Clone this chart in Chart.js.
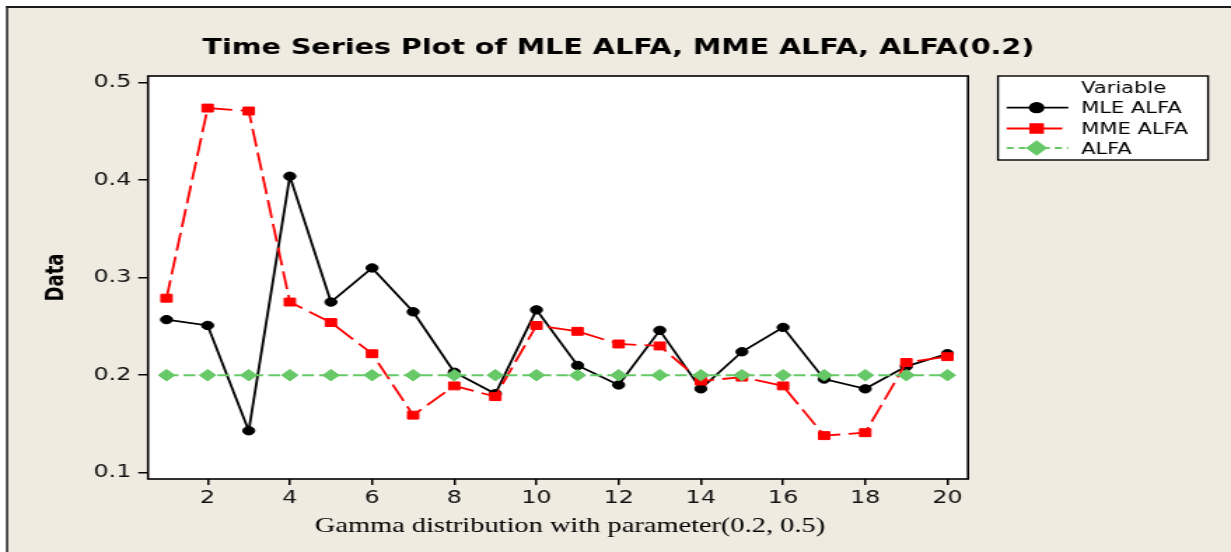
<!DOCTYPE html>
<html>
<head>
<meta charset="utf-8">
<script src="https://cdn.jsdelivr.net/npm/chart.js@4.4.1/dist/chart.umd.min.js"></script>
<style>
  html, body { margin: 0; padding: 0; background: #ffffff; overflow: hidden; }
  #wrap { width: 879px; height: 552px; transform: scaleX(1.40046); transform-origin: 0 0; }
  canvas { display: block; }
</style>
</head>
<body>
<div id="wrap"><canvas id="c" width="879" height="552"></canvas></div>
<script>
// ---------- data ----------
const chartTitle = "Time Series Plot of MLE ALFA, MME ALFA, ALFA(0.2)";
const xTitle = "Gamma distribution with parameter(0.2, 0.5)";
const yTitle = "Data";
const legendTitle = "Variable";
const seriesNames = ["MLE ALFA", "MME ALFA", "ALFA"];
const indexValues = [1, 2, 3, 4, 5, 6, 7, 8, 9, 10, 11, 12, 13, 14, 15, 16, 17, 18, 19, 20];
const mleAlfa = [0.257, 0.251, 0.143, 0.404, 0.275, 0.310, 0.265, 0.203, 0.181, 0.267,
                 0.210, 0.190, 0.246, 0.186, 0.224, 0.249, 0.196, 0.186, 0.209, 0.222];
const mmeAlfa = [0.279, 0.474, 0.471, 0.275, 0.254, 0.222, 0.159, 0.189, 0.178, 0.251,
                 0.245, 0.232, 0.230, 0.194, 0.198, 0.189, 0.138, 0.141, 0.213, 0.219];
const alfa    = [0.2, 0.2, 0.2, 0.2, 0.2, 0.2, 0.2, 0.2, 0.2, 0.2,
                 0.2, 0.2, 0.2, 0.2, 0.2, 0.2, 0.2, 0.2, 0.2, 0.2];
const xTicks = [2, 4, 6, 8, 10, 12, 14, 16, 18, 20];
const yTicks = [0.1, 0.2, 0.3, 0.4, 0.5];

const toPts = (vals) => vals.map((v, i) => ({ x: indexValues[i], y: v }));

// ---------- plugins ----------
const frame = {
  id: 'frame',
  beforeDraw(chart) {
    const ctx = chart.ctx, W = chart.width, H = chart.height;
    ctx.save();
    ctx.fillStyle = '#ffffff';
    ctx.fillRect(0, 0, W, H);
    ctx.fillStyle = '#EFEBE1';
    ctx.fillRect(5.7, 8, W - 5.7, H - 8);
    ctx.fillStyle = '#1a1a1a';
    ctx.fillRect(4.3, 6, 1.5, H - 6);
    ctx.fillRect(4.3, 6, W - 4.3, 2);
    const a = chart.chartArea;
    ctx.fillStyle = '#ffffff';
    ctx.fillRect(a.left, a.top, a.right - a.left, a.bottom - a.top);
    // title
    ctx.fillStyle = '#000000';
    ctx.font = 'bold 20.4px "DejaVu Sans"';
    ctx.textAlign = 'center';
    ctx.textBaseline = 'alphabetic';
    ctx.fillText(chartTitle, 441.6, 53.5);
    // x-axis title
    ctx.font = '20.3px "Liberation Serif"';
    ctx.fillText(xTitle, 407, 532);
    ctx.restore();
  },
  afterDatasetsDraw(chart) {
    const ctx = chart.ctx, a = chart.chartArea;
    ctx.save();
    ctx.strokeStyle = '#000000';
    ctx.lineWidth = 1.6;
    ctx.strokeRect(a.left, a.top, a.right - a.left, a.bottom - a.top);
    ctx.restore();
  }
};

const legendBox = {
  id: 'legendBox',
  afterDraw(chart) {
    const ctx = chart.ctx;
    ctx.save();
    ctx.fillStyle = '#ffffff';
    ctx.fillRect(712.6, 76, 150, 84);
    ctx.strokeStyle = '#000000';
    ctx.lineWidth = 1.4;
    ctx.strokeRect(712.6, 76, 150, 84);
    ctx.fillStyle = '#000000';
    ctx.font = '15px "DejaVu Sans"';
    ctx.textAlign = 'left';
    ctx.textBaseline = 'alphabetic';
    ctx.fillText(legendTitle, 772, 93);
    const rowsY = [107.7, 128.5, 148];
    chart.data.datasets.forEach((ds, i) => {
      const y = rowsY[i];
      ctx.save();
      ctx.strokeStyle = ds.borderColor;
      ctx.lineWidth = ds.borderWidth;
      ctx.setLineDash(ds.legendDash || []);
      ctx.beginPath();
      ctx.moveTo(718.8, y);
      ctx.lineTo(i === 1 ? 758.5 : 762.8, y);
      ctx.stroke();
      ctx.setLineDash([]);
      ctx.fillStyle = ds.pointBackgroundColor;
      ctx.strokeStyle = ds.pointBorderColor;
      Chart.helpers.drawPoint(ctx, {
        pointStyle: ds.pointStyle, radius: ds.pointRadius + 0.5, rotation: 0, borderWidth: 1
      }, 740.2, y);
      ctx.restore();
      ctx.fillStyle = '#000000';
      ctx.fillText(ds.label, 772, y + 5.5);
    });
    ctx.restore();
  }
};

// ---------- chart ----------
new Chart(document.getElementById('c'), {
  type: 'line',
  data: {
    datasets: [
      {
        label: seriesNames[0], data: toPts(mleAlfa), order: 2,
        borderColor: '#000000', borderWidth: 1.8, borderDash: [],
        pointStyle: 'circle', pointRadius: 4.2,
        pointBackgroundColor: '#000000', pointBorderColor: '#000000', pointBorderWidth: 1,
        tension: 0, fill: false
      },
      {
        label: seriesNames[1], data: toPts(mmeAlfa), order: 1,
        borderColor: '#FF0000', borderWidth: 1.8, borderDash: [18, 6], legendDash: [],
        pointStyle: 'rect', pointRadius: 5.6,
        pointBackgroundColor: '#FF0000', pointBorderColor: '#FF0000', pointBorderWidth: 1,
        tension: 0, fill: false
      },
      {
        label: seriesNames[2], data: toPts(alfa), order: 0,
        borderColor: '#66C866', borderWidth: 2, borderDash: [8.5, 3.6], legendDash: [5, 3.6],
        pointStyle: 'rectRot', pointRadius: 5.8,
        pointBackgroundColor: '#66C866', pointBorderColor: '#66C866', pointBorderWidth: 1,
        tension: 0, fill: false
      }
    ]
  },
  options: {
    responsive: false,
    animation: false,
    devicePixelRatio: 1,
    layout: { padding: { left: 10, top: 76, right: 187.8, bottom: 0 } },
    plugins: { legend: { display: false }, title: { display: false }, tooltip: { enabled: false } },
    scales: {
      x: {
        type: 'linear', min: 0.55, max: 20.5,
        afterBuildTicks: (s) => { s.ticks = xTicks.map(v => ({ value: v })); },
        afterFit: (s) => { s.height = 73; },
        grid: { display: true, drawOnChartArea: false, drawTicks: true, tickLength: 6, color: '#000000', lineWidth: 1.5 },
        border: { display: false },
        ticks: { color: '#111111', font: { family: 'DejaVu Sans', size: 17 }, padding: 3, maxRotation: 0, autoSkip: false },
        title: { display: false, text: xTitle }
      },
      y: {
        type: 'linear', min: 0.0935, max: 0.5069,
        afterBuildTicks: (s) => { s.ticks = yTicks.map(v => ({ value: v })); },
        afterFit: (s) => { s.width = 95.7; },
        grid: { display: true, drawOnChartArea: false, drawTicks: true, tickLength: 7, color: '#000000', lineWidth: 1.5 },
        border: { display: false },
        ticks: { color: '#111111', font: { family: 'DejaVu Sans', size: 17 }, padding: 5,
                 callback: (v) => v.toFixed(1) },
        title: { display: true, text: yTitle, color: '#000000',
                 font: { family: 'DejaVu Sans', size: 18, weight: 'bold' }, padding: { top: 19.5, bottom: 0 } }
      }
    }
  },
  plugins: [frame, legendBox]
});
</script>
</body>
</html>
